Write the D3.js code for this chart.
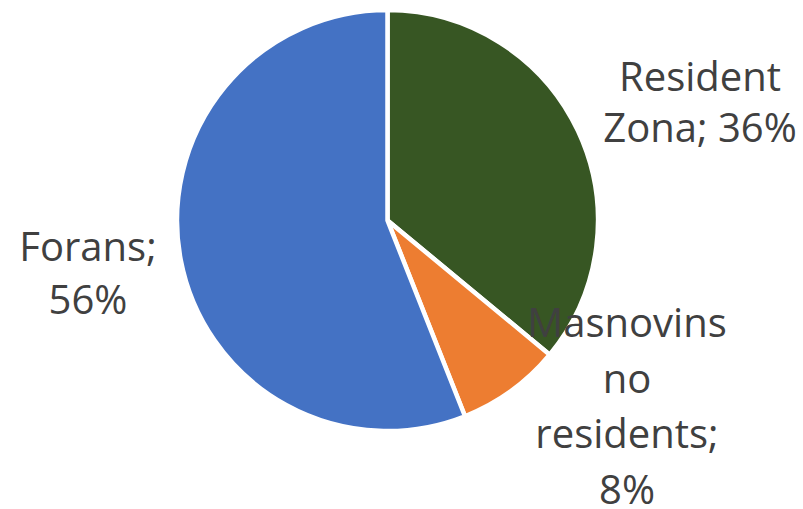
<!DOCTYPE html>
<html>
<head>
<meta charset="utf-8">
<script src="https://cdn.jsdelivr.net/npm/d3@7"></script>
<style>
  html, body { margin: 0; padding: 0; background: #ffffff; }
  svg { display: block; }
</style>
</head>
<body>
<svg id="chart" width="803" height="509"></svg>
<script>
// Share of visitors by origin
const categories = ["Resident Zona", "Masnovins no residents", "Forans"];
const shares = [36, 8, 56];
const colors = ["#375623", "#ED7D31", "#4472C4"];
// Label lines as displayed next to each slice
const labelLines = [
  ["Resident", "Zona; 36%"],
  ["Masnovins", "no", "residents;", "8%"],
  ["Forans;", "56%"]
];
// Label anchor points (centre x, first baseline y, line step)
const labelPos = [
  { x: 700, y: 90.5, step: 51 },
  { x: 627, y: 337, step: 55.5 },
  { x: 88, y: 261, step: 53 }
];

const svg = d3.select("#chart");
const cx = 387.5, cy = 220.5, radius = 210.5;

const pie = d3.pie().sort(null).value(d => d)(shares);
const arc = d3.arc().innerRadius(0).outerRadius(radius);

const g = svg.append("g").attr("transform", `translate(${cx},${cy})`);
g.selectAll("path")
  .data(pie)
  .join("path")
  .attr("d", arc)
  .attr("fill", (d, i) => colors[i])
  .attr("stroke", "#ffffff")
  .attr("stroke-width", 4.5)
  .attr("stroke-linejoin", "round");

const labels = svg.append("g")
  .attr("font-family", "'Open Sans', sans-serif")
  .attr("font-size", 40)
  .attr("fill", "#404040")
  .attr("text-anchor", "middle");

labelLines.forEach((lines, i) => {
  const p = labelPos[i];
  const t = labels.append("text")
    .attr("x", p.x)
    .attr("y", p.y);
  lines.forEach((ln, j) => {
    t.append("tspan")
      .attr("x", p.x)
      .attr("dy", j === 0 ? 0 : p.step)
      .text(ln);
  });
});
</script>
</body>
</html>
